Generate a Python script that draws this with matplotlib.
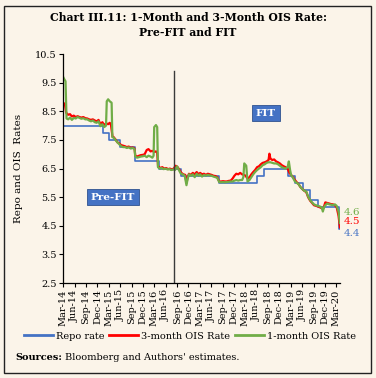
import pandas as pd
import numpy as np
import matplotlib
matplotlib.use("Agg")
import matplotlib.pyplot as plt
import matplotlib.dates as mdates
from matplotlib.patches import Rectangle
from matplotlib.lines import Line2D

# repo rate (policy changes)
repo_dates = ["2014-03-01", "2015-01-15", "2015-03-04", "2015-06-02", "2015-09-29",
              "2016-04-05", "2016-10-04", "2017-08-02", "2018-06-06", "2018-08-01",
              "2019-02-07", "2019-04-04", "2019-06-06", "2019-08-07", "2019-10-04",
              "2020-03-27", "2020-03-31"]
repo_vals = [8.0, 7.75, 7.5, 7.25, 6.75, 6.5, 6.25, 6.0, 6.25, 6.5,
             6.25, 6.0, 5.75, 5.4, 5.15, 4.4, 4.4]

# 3-month OIS
ois3_dates = ["2014-03-01", "2014-03-15", "2014-03-25", "2014-04-10", "2014-04-25", "2014-05-10",
              "2014-05-25", "2014-06-10", "2014-06-25", "2014-07-10", "2014-07-25", "2014-08-10",
              "2014-08-25", "2014-09-10", "2014-09-25", "2014-10-10", "2014-10-25", "2014-11-10",
              "2014-11-25", "2014-12-10", "2014-12-25", "2015-01-10", "2015-01-25", "2015-02-10",
              "2015-02-25", "2015-03-10", "2015-03-20", "2015-04-01", "2015-04-10", "2015-04-25",
              "2015-05-10", "2015-05-25", "2015-06-10", "2015-06-25", "2015-07-10", "2015-07-25",
              "2015-08-10", "2015-08-25", "2015-09-10", "2015-09-25", "2015-10-01", "2015-10-15",
              "2015-11-01", "2015-11-15", "2015-12-01", "2015-12-15", "2016-01-01", "2016-01-15",
              "2016-02-01", "2016-02-15", "2016-03-01", "2016-03-15", "2016-03-25", "2016-04-01",
              "2016-04-20", "2016-05-05", "2016-05-20", "2016-06-05", "2016-06-20", "2016-07-05",
              "2016-07-20", "2016-08-05", "2016-08-20", "2016-09-05", "2016-09-20", "2016-10-05",
              "2016-10-20", "2016-11-05", "2016-11-15", "2016-11-25", "2016-12-05", "2016-12-20",
              "2017-01-05", "2017-01-20", "2017-02-05", "2017-02-20", "2017-03-05", "2017-03-20",
              "2017-04-05", "2017-04-20", "2017-05-05", "2017-05-20", "2017-06-05", "2017-06-20",
              "2017-07-05", "2017-07-20", "2017-08-05", "2017-08-20", "2017-09-05", "2017-09-20",
              "2017-10-05", "2017-10-20", "2017-11-05", "2017-11-20", "2017-12-05", "2017-12-20",
              "2018-01-05", "2018-01-20", "2018-02-05", "2018-02-20", "2018-03-05", "2018-03-20",
              "2018-04-05", "2018-04-20", "2018-05-05", "2018-05-20", "2018-06-05", "2018-06-20",
              "2018-07-05", "2018-07-20", "2018-08-05", "2018-08-20", "2018-09-05", "2018-09-12",
              "2018-09-20", "2018-10-05", "2018-10-20", "2018-11-05", "2018-11-20", "2018-12-05",
              "2018-12-20", "2019-01-05", "2019-01-20", "2019-02-05", "2019-02-20", "2019-03-05",
              "2019-03-20", "2019-04-05", "2019-04-20", "2019-05-05", "2019-05-20", "2019-06-05",
              "2019-06-20", "2019-07-05", "2019-07-20", "2019-08-05", "2019-08-20", "2019-09-05",
              "2019-09-20", "2019-10-05", "2019-10-20", "2019-11-05", "2019-11-20", "2019-12-05",
              "2019-12-20", "2020-01-05", "2020-01-20", "2020-02-05", "2020-02-20", "2020-03-05",
              "2020-03-20", "2020-03-31"]
ois3_vals = [8.80, 8.75, 8.45, 8.38, 8.40, 8.32,
             8.35, 8.30, 8.33, 8.30, 8.28, 8.30,
             8.26, 8.25, 8.22, 8.20, 8.22, 8.18,
             8.15, 8.20, 8.05, 8.12, 8.02, 8.08,
             8.05, 8.10, 8.02, 7.62, 7.60, 7.52,
             7.42, 7.38, 7.32, 7.30, 7.28, 7.25,
             7.27, 7.22, 7.24, 7.20, 6.95, 6.92,
             6.95, 6.97, 6.98, 7.00, 7.15, 7.18,
             7.10, 7.12, 7.08, 7.10, 7.05, 6.58,
             6.52, 6.55, 6.50, 6.52, 6.48, 6.50,
             6.47, 6.50, 6.60, 6.55, 6.45, 6.35,
             6.30, 6.28, 6.00, 6.20, 6.32, 6.28,
             6.35, 6.30, 6.38, 6.30, 6.35, 6.30,
             6.32, 6.28, 6.32, 6.30, 6.28, 6.25,
             6.24, 6.20, 6.05, 6.05, 6.06, 6.05,
             6.05, 6.07, 6.08, 6.15, 6.25, 6.32,
             6.30, 6.35, 6.30, 6.28, 6.25, 6.15,
             6.20, 6.30, 6.38, 6.45, 6.55, 6.58,
             6.65, 6.70, 6.72, 6.75, 6.80, 7.02,
             6.85, 6.80, 6.82, 6.75, 6.72, 6.68,
             6.62, 6.58, 6.55, 6.50, 6.35, 6.28,
             6.20, 6.10, 6.02, 5.95, 5.85, 5.78,
             5.72, 5.68, 5.50, 5.38, 5.30, 5.22,
             5.20, 5.18, 5.15, 5.12, 5.12, 5.32,
             5.30, 5.28, 5.26, 5.25, 5.22, 5.15,
             4.85, 4.45]

# 1-month OIS
ois1_dates = ["2014-03-01", "2014-03-10", "2014-03-20", "2014-03-28", "2014-04-10", "2014-04-25",
              "2014-05-10", "2014-05-25", "2014-06-10", "2014-06-25", "2014-07-10", "2014-07-25",
              "2014-08-10", "2014-08-25", "2014-09-10", "2014-09-25", "2014-10-10", "2014-10-25",
              "2014-11-10", "2014-11-25", "2014-12-10", "2014-12-25", "2015-01-10", "2015-01-25",
              "2015-02-08", "2015-02-14", "2015-02-25", "2015-03-10", "2015-03-25", "2015-03-31",
              "2015-04-10", "2015-04-25", "2015-05-10", "2015-05-25", "2015-06-10", "2015-06-25",
              "2015-07-10", "2015-07-25", "2015-08-10", "2015-08-25", "2015-09-10", "2015-09-25",
              "2015-10-01", "2015-10-15", "2015-11-01", "2015-11-15", "2015-12-01", "2015-12-15",
              "2016-01-01", "2016-01-15", "2016-02-01", "2016-02-15", "2016-02-25", "2016-03-01",
              "2016-03-15", "2016-03-25", "2016-03-31", "2016-04-15", "2016-05-01", "2016-05-15",
              "2016-06-01", "2016-06-15", "2016-07-01", "2016-07-15", "2016-08-01", "2016-08-15",
              "2016-09-01", "2016-09-15", "2016-10-01", "2016-10-15", "2016-11-01", "2016-11-15",
              "2016-11-25", "2016-12-05", "2016-12-20", "2017-01-05", "2017-01-20", "2017-02-05",
              "2017-02-20", "2017-03-05", "2017-03-20", "2017-04-05", "2017-04-20", "2017-05-05",
              "2017-05-20", "2017-06-05", "2017-06-20", "2017-07-05", "2017-07-20", "2017-08-05",
              "2017-08-20", "2017-09-05", "2017-09-20", "2017-10-05", "2017-10-20", "2017-11-05",
              "2017-11-20", "2017-12-05", "2017-12-20", "2018-01-05", "2018-01-20", "2018-02-05",
              "2018-02-15", "2018-02-22", "2018-03-10", "2018-03-20", "2018-04-05", "2018-04-20",
              "2018-05-05", "2018-05-20", "2018-06-05", "2018-06-20", "2018-07-05", "2018-07-20",
              "2018-08-05", "2018-08-20", "2018-09-05", "2018-09-20", "2018-10-05", "2018-10-20",
              "2018-11-05", "2018-11-20", "2018-12-05", "2018-12-20", "2019-01-05", "2019-01-20",
              "2019-02-05", "2019-02-15", "2019-02-25", "2019-03-05", "2019-03-20", "2019-04-05",
              "2019-04-20", "2019-05-05", "2019-05-20", "2019-06-05", "2019-06-20", "2019-07-05",
              "2019-07-20", "2019-08-05", "2019-08-20", "2019-09-05", "2019-09-20", "2019-10-05",
              "2019-10-20", "2019-11-05", "2019-11-15", "2019-11-25", "2019-12-05", "2019-12-20",
              "2020-01-05", "2020-01-20", "2020-02-05", "2020-02-20", "2020-03-05", "2020-03-20",
              "2020-03-31"]
ois1_vals = [9.70, 9.62, 9.55, 8.25, 8.22, 8.28,
             8.20, 8.27, 8.25, 8.30, 8.27, 8.24,
             8.26, 8.22, 8.22, 8.18, 8.15, 8.18,
             8.12, 8.10, 8.15, 7.98, 8.05, 7.95,
             8.00, 8.85, 8.92, 8.85, 8.80, 7.60,
             7.58, 7.50, 7.42, 7.35, 7.28, 7.25,
             7.25, 7.22, 7.24, 7.20, 7.22, 7.18,
             6.92, 6.88, 6.90, 6.92, 6.93, 6.95,
             6.90, 6.95, 6.92, 6.88, 6.95, 7.95,
             8.02, 7.95, 6.55, 6.50, 6.52, 6.48,
             6.50, 6.47, 6.48, 6.45, 6.47, 6.45,
             6.58, 6.45, 6.32, 6.30, 6.25, 5.92,
             6.15, 6.30, 6.25, 6.30, 6.20, 6.32,
             6.25, 6.30, 6.22, 6.28, 6.25, 6.28,
             6.26, 6.25, 6.22, 6.20, 6.18, 6.03,
             6.02, 6.03, 6.02, 6.03, 6.04, 6.05,
             6.05, 6.08, 6.10, 6.08, 6.10, 6.10,
             6.20, 6.68, 6.60, 6.05, 6.10, 6.20,
             6.30, 6.38, 6.45, 6.50, 6.55, 6.62,
             6.65, 6.70, 6.72, 6.72, 6.70, 6.68,
             6.68, 6.65, 6.60, 6.55, 6.52, 6.50,
             6.55, 6.75, 6.45, 6.28, 6.18, 6.05,
             6.00, 5.95, 5.85, 5.78, 5.72, 5.70,
             5.52, 5.40, 5.32, 5.25, 5.22, 5.20,
             5.18, 5.15, 5.00, 5.15, 5.22, 5.28,
             5.25, 5.24, 5.22, 5.25, 5.20, 5.00,
             4.60]

end_labels = ["4.6", "4.5", "4.4"]

bg = "#FBF4E9"
blue = "#4472C4"
red = "#FF0000"
green = "#70AD47"

plt.rcParams["font.family"] = "DejaVu Serif"

fig = plt.figure(figsize=(3.76, 3.78), dpi=100, facecolor=bg)
ax = fig.add_axes([0.168, 0.251, 0.736, 0.606])
ax.set_facecolor(bg)

ax.step(pd.to_datetime(repo_dates), repo_vals, where="post", color=blue, linewidth=1.2)
ax.plot(pd.to_datetime(ois3_dates), ois3_vals, color=red, linewidth=1.6)
ax.plot(pd.to_datetime(ois1_dates), ois1_vals, color=green, linewidth=1.6)

# start of FIT
ax.plot([pd.Timestamp("2016-08-05")] * 2, [9.9, 2.5], color="#3a3a3a", linewidth=1.0)

ax.set_xlim(pd.Timestamp("2014-03-01"), pd.Timestamp("2020-03-31"))
ax.set_ylim(2.5, 10.5)
ax.set_yticks(np.arange(2.5, 10.6, 1.0))
ax.yaxis.set_major_formatter(matplotlib.ticker.FormatStrFormatter("%.1f"))
ax.xaxis.set_major_locator(mdates.MonthLocator(bymonth=[3, 6, 9, 12]))
ax.xaxis.set_major_formatter(mdates.DateFormatter("%b-%y"))
plt.setp(ax.get_xticklabels(), rotation=90)
ax.tick_params(labelsize=7, length=3, width=0.8, color="black", pad=1.5)
for s in ["top", "right"]:
    ax.spines[s].set_visible(False)
for s in ["left", "bottom"]:
    ax.spines[s].set_linewidth(0.9)

ax.set_ylabel("Repo and OIS  Rates", fontsize=7.5, labelpad=9)

ax.text(pd.Timestamp("2015-04-06"), 5.5, "Pre-FIT", color="white", fontsize=7.5,
        fontweight="bold", ha="center", va="center",
        bbox=dict(boxstyle="square,pad=0.35", facecolor=blue, edgecolor="#2F528F", linewidth=0.6))
ax.text(pd.Timestamp("2018-08-15"), 8.44, "FIT", color="white", fontsize=7.5,
        fontweight="bold", ha="center", va="center",
        bbox=dict(boxstyle="square,pad=0.35", facecolor=blue, edgecolor="#2F528F", linewidth=0.6))

trans = matplotlib.transforms.blended_transform_factory(ax.transAxes, ax.transData)
for lab, yv, c in zip(end_labels, [4.95, 4.64, 4.25], [green, red, blue]):
    ax.text(1.015, yv, lab, transform=trans, color=c, fontsize=7.5, ha="left", va="center")

handles = [Line2D([], [], color=blue, linewidth=2),
           Line2D([], [], color=red, linewidth=2),
           Line2D([], [], color=green, linewidth=2)]
fig.legend(handles, ["Repo rate", "3-month OIS Rate", "1-month OIS Rate"],
           loc="center", bbox_to_anchor=(0.505, 0.111), ncol=3, frameon=False,
           fontsize=7, handlelength=3.0, handletextpad=0.3, columnspacing=0.5,
           borderpad=0.1)

fig.text(0.5, 0.967, "Chart III.11: 1-Month and 3-Month OIS Rate:\nPre-FIT and FIT",
         ha="center", va="top", fontsize=7.8, fontweight="bold", linespacing=1.35)
fig.text(0.04, 0.053, "Sources:", fontsize=7, fontweight="bold", va="center")
fig.text(0.172, 0.053, "Bloomberg and Authors' estimates.", fontsize=7, va="center")

fig.patches.append(Rectangle((0.011, 0.013), 0.977, 0.972, transform=fig.transFigure,
                             fill=False, edgecolor="#222222", linewidth=1.0))

fig.savefig("out.png", dpi=100, facecolor=bg)
